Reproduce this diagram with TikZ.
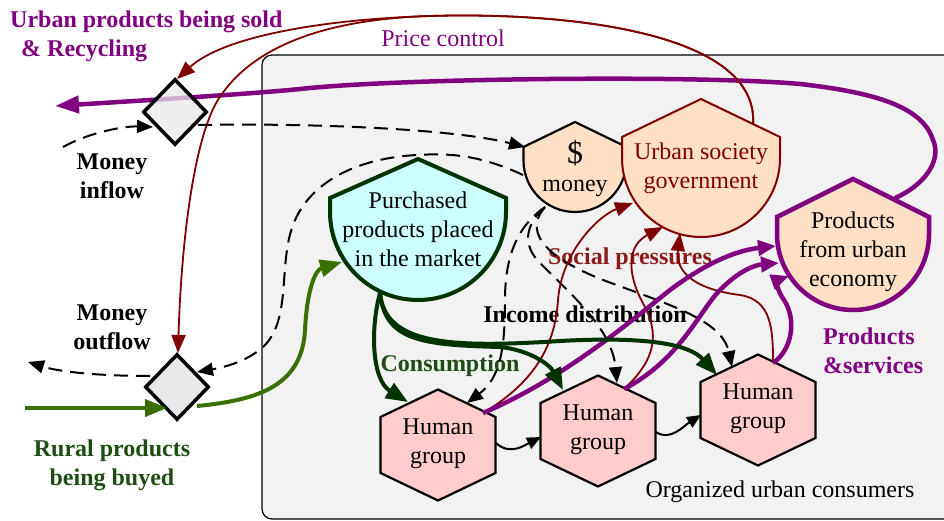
\documentclass[tikz,border=0pt]{standalone}
\usepackage{fontspec}
\setmainfont{Liberation Serif}
\usetikzlibrary{arrows.meta,shapes.geometric}
\definecolor{dred}{HTML}{800000}
\definecolor{purp}{HTML}{800080}
\definecolor{dgreen}{HTML}{003300}
\definecolor{lgreen}{HTML}{3A7002}
\definecolor{peach}{HTML}{FFE0C4}
\definecolor{cyanf}{HTML}{CCFFFF}
\definecolor{pinkf}{HTML}{FFCCCC}
\definecolor{boxf}{HTML}{F2F2F2}
\definecolor{diaf}{HTML}{E8E8E8}
\definecolor{gtxt}{HTML}{1E4D14}
\definecolor{rtxt}{HTML}{8B1A1A}
% style, cx, apex y, shoulder y, half width, bottom y
\newcommand\shieldshape[6]{%
  \draw[#1] (#2-#5,#4) -- (#2,#3) -- (#2+#5,#4) -- (#2+#5,{#6-#5})
    .. controls (#2+#5,{#6-0.448*#5}) and ({#2+0.552*#5},#6) .. (#2,#6)
    .. controls ({#2-0.552*#5},#6) and (#2-#5,{#6-0.448*#5}) .. (#2-#5,{#6-#5}) -- cycle;}
\newcommand\hexshape[2]{%
  \draw[hexst] (#1-57.5,#2-28) -- (#1,#2-55.5) -- (#1+57.5,#2-28) -- (#1+57.5,#2+28)
    -- (#1,#2+55.5) -- (#1-57.5,#2+28) -- cycle;}
\tikzset{
  txt/.style={font=\fontsize{24}{29}\selectfont, align=center, inner sep=0pt},
  btxt/.style={font=\fontsize{24}{29}\selectfont\bfseries, align=center, inner sep=0pt},
  hexst/.style={draw=black, fill=pinkf, line width=2.2pt, line join=miter},
  diam/.style={diamond, draw=black, fill=diaf, line width=3.5pt, minimum width=64pt, minimum height=66pt, inner sep=0pt},
  dashline/.style={black, line width=2pt, dash pattern=on 14pt off 8pt, -{Triangle[length=16pt,width=13pt]}},
  redline/.style={dred, line width=1.8pt, -{Triangle[length=18pt,width=14pt]}},
  purline/.style={purp, line width=4.5pt, -{Triangle[length=18pt,width=15pt]}},
  grnline/.style={dgreen, line width=4pt, -{Triangle[length=22pt,width=17pt]}},
  hexarrow/.style={black, line width=2pt, -{Triangle[length=14pt,width=12pt]}}
}
\begin{document}
\begin{tikzpicture}[x=1pt,y=-1pt]
\useasboundingbox (0,0) rectangle (944,521);
% container
\draw[fill=boxf, line width=1.2pt, rounded corners=10pt] (262,55) rectangle (970,519);
\node[txt] (org) at (780,492) {Organized urban consumers};

% big purple line (drawn under diamond 1)
\coordinate (pTR) at (895,198);
\coordinate (urbOut) at (55,106);
\draw[purp, line width=4.5pt, -{Triangle[length=24pt,width=17pt]}]
  (pTR) .. controls (925,185) and (942,160) .. (933,140)
  .. controls (922,105) and (870,92) .. (800,84)
  .. controls (700,75) and (400,78) .. (300,89)
  .. controls (250,94) and (150,100) .. (urbOut);

% diamonds
\node[diam, fill opacity=0.75] (d1) at (175,112) {};
\node[diam] (d2) at (177,387) {};

% shield nodes
\shieldshape{draw=black, fill=peach, line width=2.2pt}{575}{122}{147}{51.5}{212}
\shieldshape{draw=dred, fill=peach, line width=2pt}{701}{99}{137}{79}{237}
\shieldshape{draw=purp, fill=peach, line width=4.5pt}{853}{179}{217}{76}{310}
\shieldshape{draw=dgreen, fill=cyanf, line width=4pt}{418}{159}{198}{88}{300}

\node[txt] (dollar) at (575,153) {\fontsize{32}{32}\selectfont\$};
\node[txt] (money) at (575,188) {money};
\node[txt, text=dred] (gov) at (701,168) {Urban society\\government};
\node[txt] (prod) at (853,252) {Products\\from urban\\economy};
\node[txt] (purch) at (418,229) {Purchased\\products placed\\in the market};

% hexes
\hexshape{438}{445}
\hexshape{598}{431}
\hexshape{758}{410}
\node[txt] (h1) at (438,444) {Human\\group};
\node[txt] (h2) at (598,430) {Human\\group};
\node[txt] (h3) at (758,409) {Human\\group};

% labels
\node[btxt, text=purp, anchor=west] (ups) at (10,22) {Urban products being sold};
\node[btxt, text=purp, anchor=west] (rec) at (21,51) {\& Recycling};
\node[txt, text=purp] (pc) at (443,38) {Price control};
\node[btxt] (minf) at (112,176) {Money\\inflow};
\node[btxt] (mout) at (112,327) {Money\\outflow};
\node[btxt, text=gtxt] (rural) at (112,465) {Rural products\\being buyed};
\node[btxt, text=rtxt] (soc) at (630,259) {Social pressures};
\node[btxt] (inc) at (585,314) {Income distribution};
\node[btxt, text=gtxt] (cons) at (450,366) {Consumption};
\node[btxt, text=purp, align=left, anchor=west] (ps) at (823,351) {Products\\\&services};

% coordinates on shapes
\coordinate (gTop) at (753,125);
\coordinate (d1Top) at (177,79);
\coordinate (d2Top) at (178,353);
\coordinate (d1In) at (153,127);
\coordinate (inSrc) at (63,147);
\coordinate (d1R) at (198,125);
\coordinate (mL) at (525,147);
\coordinate (mL2) at (523,175);
\coordinate (d2R) at (197,372);
\coordinate (d2L) at (150,376);
\coordinate (outEnd) at (28,362);
\coordinate (mB) at (545,207);
\coordinate (h1T) at (467,403);
\coordinate (h2T) at (617,383);
\coordinate (h3T) at (732,367);
\coordinate (h1TR) at (483,413);
\coordinate (h2TR) at (624,389);
\coordinate (h3TR) at (773,363);
\coordinate (gB1) at (633,203);
\coordinate (gB2) at (663,227);
\coordinate (gB3) at (680,233);
\coordinate (pL1) at (776,246);
\coordinate (pL2) at (779,263);
\coordinate (pL3) at (789,276);
\coordinate (pB) at (380,293);
\coordinate (h1G) at (408,402);
\coordinate (h2G) at (563,390);
\coordinate (h3G) at (717,375);
\coordinate (ruralSrc) at (25,408);
\coordinate (d2In) at (167,408);
\coordinate (d2Out) at (197,406);
\coordinate (pIn) at (342,262);
\coordinate (h1R) at (496,443);
\coordinate (h2L) at (541,437);
\coordinate (h2R) at (656,432);
\coordinate (h3L) at (701,415);

% price control
\draw[redline] (gTop) .. controls (760,30) and (560,12) .. (430,16)
  .. controls (330,19) and (225,35) .. (d1Top);
\draw[redline] (gTop) .. controls (760,30) and (560,12) .. (430,16)
  .. controls (300,20) and (240,60) .. (215,105)
  .. controls (192,150) and (181,250) .. (d2Top);

% money flows
\draw[dashline] (inSrc) .. controls (90,132) and (125,126) .. (d1In);
\draw[dashline] (d1R) .. controls (300,123) and (450,128) .. (mL);
\draw[dashline] (mL2) .. controls (480,155) and (450,153) .. (417,155)
  .. controls (360,158) and (310,180) .. (293,225)
  .. controls (278,265) and (292,320) .. (263,347)
  .. controls (245,363) and (220,368) .. (d2R);
\draw[dashline] (d2L) .. controls (100,376) and (60,372) .. (outEnd);
\draw[dashline] (mB) .. controls (515,228) and (505,260) .. (505,300)
  .. controls (505,350) and (500,378) .. (h1T);
\draw[dashline] (mB) .. controls (525,225) and (522,245) .. (540,263)
  .. controls (575,298) and (612,330) .. (h2T);
\draw[dashline] (mB) .. controls (525,230) and (540,255) .. (603,280)
  .. controls (670,305) and (722,320) .. (h3T);

% social pressures
\draw[redline] (h1TR) .. controls (530,385) and (555,350) .. (558,300)
  .. controls (562,250) and (600,215) .. (gB1);
\draw[redline] (h2TR) .. controls (650,365) and (662,340) .. (645,307)
  .. controls (625,272) and (628,245) .. (gB2);
\draw[redline] (h3TR) .. controls (773,330) and (772,300) .. (740,295)
  .. controls (700,290) and (675,275) .. (gB3);

% products & services
\draw[purline] (h1TR) .. controls (560,380) and (620,330) .. (670,290)
  .. controls (710,260) and (740,250) .. (pL1);
\draw[purline] (h2TR) .. controls (680,360) and (700,310) .. (720,290)
  .. controls (740,270) and (755,265) .. (pL2);
\draw[purline] (h3TR) .. controls (792,350) and (797,320) .. (784,300)
  .. controls (775,287) and (778,280) .. (pL3);

% consumption
\draw[grnline] (pB) .. controls (370,330) and (372,380) .. (h1G);
\draw[grnline] (pB) .. controls (385,340) and (420,345) .. (500,347)
  .. controls (530,350) and (550,365) .. (h2G);
\draw[grnline] (pB) .. controls (385,345) and (450,348) .. (560,341)
  .. controls (650,336) and (690,345) .. (h3G);

% rural products
\draw[lgreen, line width=4pt, -{Triangle[length=22pt,width=17pt]}] (ruralSrc) -- (d2In);
\draw[lgreen, line width=4pt, -{Triangle[length=22pt,width=17pt]}] (d2Out)
  .. controls (260,400) and (302,385) .. (305,330)
  .. controls (307,290) and (315,270) .. (pIn);

% between groups
\draw[hexarrow] (h1R) .. controls (510,456) and (525,445) .. (h2L);
\draw[hexarrow] (h2R) .. controls (670,442) and (685,425) .. (h3L);
\end{tikzpicture}
\end{document}
